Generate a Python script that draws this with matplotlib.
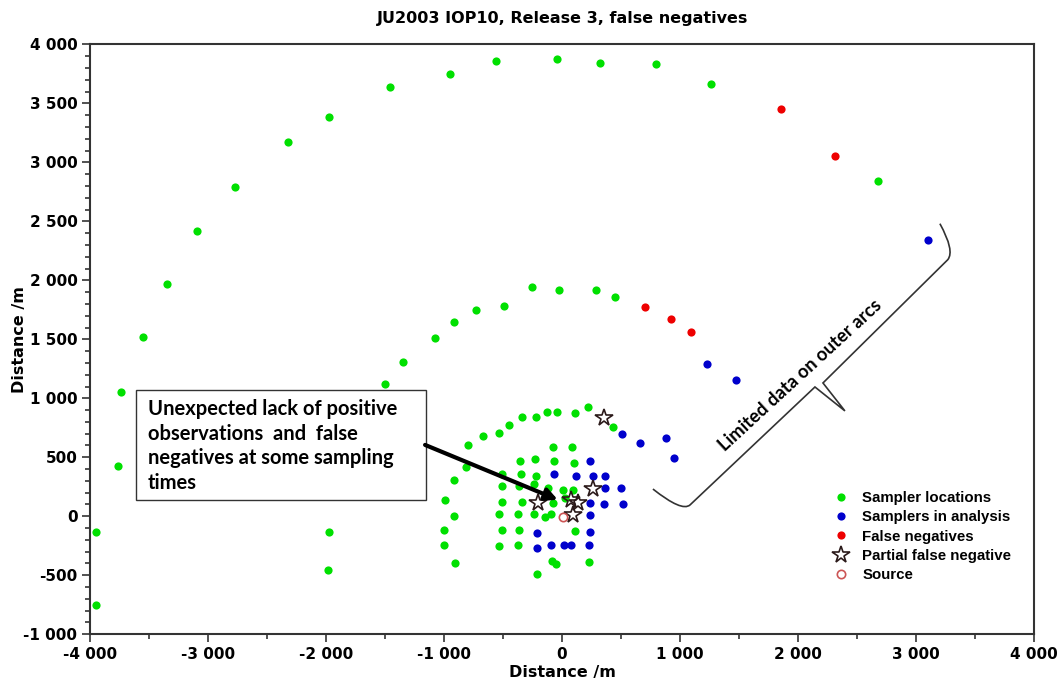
#!/usr/bin/env python3
"""Sampler map for JU2003 IOP10 release 3, with false negatives marked."""

import matplotlib
matplotlib.use("Agg")
import matplotlib.pyplot as plt
import matplotlib.ticker as ticker
from matplotlib.patches import PathPatch, Rectangle
from matplotlib.path import Path

OUTPUT_FILE = "out.png"

# Sampler positions (metres from the source)
GREEN_X = [-3950, -3950, -3760, -3735, -3550, -3345, -3095, -2770, -2320, -1970,
           -1460, -950, -560, -45, 320, 800, 1265, 2680,
           -1975, -1985,
           -1500, -1350, -1075, -915, -725, -495, -255, -25, 290, 450,
           -800, -665, -530, -450, -335, -220, -125, -40, 110, 220, 430,
           -810, -915, -990, -915, -1000, -1000, -905,
           -80, 85,
           -355, -225, -65, 100,
           -505, -345, -220,
           -510, -360, -235, -120, 10, 90,
           -505, -340, -75, 25,
           -530, -375, -235, -145, -95,
           -505, -365, 110,
           -530, -375,
           -85, -50, 225,
           -210]
GREEN_Y = [-750, -130, 430, 1055, 1520, 1970, 2415, 2795, 3170, 3385,
           3635, 3745, 3855, 3875, 3840, 3830, 3660, 2845,
           -130, -455,
           1120, 1305, 1510, 1650, 1745, 1780, 1945, 1920, 1920, 1855,
           600, 680, 710, 775, 840, 840, 885, 885, 875, 925, 755,
           420, 310, 140, 5, -115, -245, -395,
           590, 590,
           465, 485, 465, 450,
           360, 360, 345,
           260, 260, 270, 240, 225, 225,
           120, 120, 115, 155,
           20, 20, 20, -5, 20,
           -115, -115, -125,
           -250, -245,
           -380, -405, -390,
           -490]

BLUE_X = [3100, 1230, 1475, 510, 660, 880, 950,
          240, -65, 120, 265, 365, 365, 500, 235, 360, 520, 235,
          -215, 235, -215, -95, 20, 75, 225]
BLUE_Y = [2340, 1290, 1155, 700, 625, 665, 495,
          465, 355, 345, 345, 345, 240, 240, 110, 105, 105, 10,
          -145, -130, -270, -245, -245, -245, -245]

RED_X = [1860, 2310, 700, 920, 1090]
RED_Y = [3450, 3055, 1770, 1670, 1565]

STAR_X = [360, -200, 80, 140, 95, 265]
STAR_Y = [830, 110, 140, 115, 10, 235]

SOURCE_X = [5]
SOURCE_Y = [-5]

XTICKS = [-4000, -3000, -2000, -1000, 0, 1000, 2000, 3000, 4000]
YTICKS = [-1000, -500, 0, 500, 1000, 1500, 2000, 2500, 3000, 3500, 4000]

DARK = "#333333"


def thousands(v, pos=None):
    s = f"{abs(int(round(v))):,}".replace(",", " ")
    return ("-" if v < 0 else "") + s


def draw_brace(ax):
    """Curly bracket alongside the outer arcs."""
    verts = [(771, 231), (1017, 36), (1085, 96), (2144, 1096), (2398, 893),
             (2212, 1130), (3270, 2175), (3330, 2250), (3203, 2480)]
    codes = [Path.MOVETO, Path.CURVE3, Path.CURVE3, Path.LINETO, Path.LINETO,
             Path.LINETO, Path.LINETO, Path.CURVE3, Path.CURVE3]
    ax.add_patch(PathPatch(Path(verts, codes), facecolor="none",
                           edgecolor=DARK, lw=1.2, zorder=2))


def main():
    fig = plt.figure(figsize=(10.57, 6.81), dpi=100)
    ax = fig.add_axes([0.0851, 0.0686, 0.8931, 0.8663])

    ms = 5.9
    ax.plot(GREEN_X, GREEN_Y, "o", color="#00e000", ms=ms, mew=0,
            label="Sampler locations", zorder=3)
    ax.plot(BLUE_X, BLUE_Y, "o", color="#0000cc", ms=ms, mew=0,
            label="Samplers in analysis", zorder=3)
    ax.plot(RED_X, RED_Y, "o", color="#ee0000", ms=ms, mew=0,
            label="False negatives", zorder=3)
    ax.plot(STAR_X, STAR_Y, "*", mfc="none", mec="#2b1a1a", ms=13, mew=1.2,
            label="Partial false negative", zorder=4)
    ax.plot(SOURCE_X, SOURCE_Y, "o", mfc="none", mec="#cc5555", ms=6, mew=1.2,
            label="Source", zorder=4)

    ax.set_xlim(-4000, 4000)
    ax.set_ylim(-1000, 4000)

    ax.set_xticks(XTICKS)
    ax.set_yticks(YTICKS)
    ax.xaxis.set_minor_locator(ticker.MultipleLocator(500))
    ax.yaxis.set_minor_locator(ticker.MultipleLocator(100))
    ax.xaxis.set_major_formatter(ticker.FuncFormatter(thousands))
    ax.yaxis.set_major_formatter(ticker.FuncFormatter(thousands))
    ax.tick_params(which="both", direction="out", top=False, right=False,
                   color=DARK, width=1.2)
    ax.tick_params(which="major", length=6, pad=3, labelsize=11)
    ax.tick_params(which="minor", length=3.5)
    for lab in ax.get_xticklabels() + ax.get_yticklabels():
        lab.set_fontweight("bold")
    for sp in ax.spines.values():
        sp.set_linewidth(1.5)
        sp.set_color(DARK)

    fig.text(563 / 1057, 1 - 18 / 681, "JU2003 IOP10, Release 3, false negatives",
             ha="center", va="center", fontsize=11.5, fontweight="bold")
    fig.text(562 / 1057, 1 - 672 / 681, "Distance /m",
             ha="center", va="center", fontsize=11.5, fontweight="bold")
    fig.text(20 / 1057, 1 - 340 / 681, "Distance /m", rotation=90,
             ha="center", va="center", fontsize=11.5, fontweight="bold")

    # Callout box with arrow into the centre
    ax.add_patch(Rectangle((-3610, 138), 2457, 932, facecolor="white",
                           edgecolor=DARK, lw=1.0, zorder=5))
    ax.text(-3508, 995,
            "Unexpected lack of positive\nobservations  and  false\n"
            "negatives at some sampling\ntimes",
            ha="left", va="top", fontsize=14.5, fontweight="bold",
            family="Lato", linespacing=1.29, zorder=6)
    ax.annotate("", xy=(-35, 140), xytext=(-1160, 605),
                arrowprops=dict(arrowstyle="-|>", color="black", lw=3,
                                mutation_scale=18, shrinkA=0, shrinkB=0),
                zorder=6)

    draw_brace(ax)
    ax.text(2020, 1195, "Limited data on outer arcs", rotation=42.6,
            rotation_mode="anchor", ha="center", va="center",
            fontsize=13.2, fontweight="bold", family="Lato")

    ax.legend(loc="upper left", bbox_to_anchor=(0.7886, 0.2425),
              frameon=False, borderaxespad=0, borderpad=0, numpoints=1,
              handlelength=0.9, handletextpad=0.95, labelspacing=0.35,
              prop=dict(size=10.8, weight="bold", family="Liberation Sans"))

    fig.savefig(OUTPUT_FILE, dpi=100)


if __name__ == "__main__":
    main()
